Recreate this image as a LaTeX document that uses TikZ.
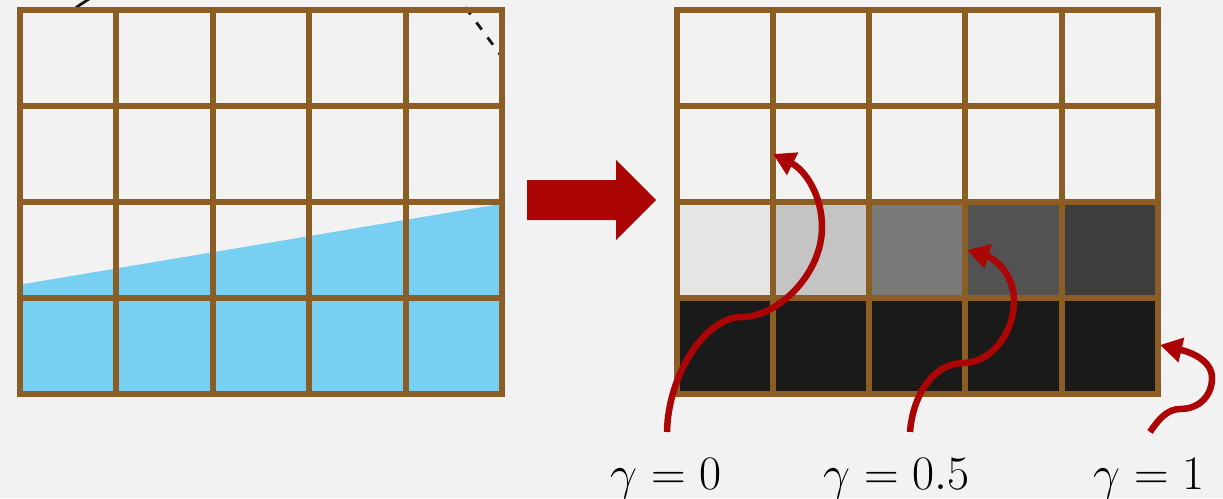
\documentclass[tikz,border=0pt]{standalone}
\usepackage{graphicx}
\usetikzlibrary{arrows.meta}
\definecolor{bgc}{RGB}{242,242,242}
\definecolor{gridbrown}{RGB}{139,94,37}
\definecolor{waterblue}{RGB}{119,207,241}
\definecolor{arrowred}{RGB}{172,5,5}
\definecolor{gA}{RGB}{230,230,230}
\definecolor{gB}{RGB}{196,196,196}
\definecolor{gC}{RGB}{122,122,122}
\definecolor{gD}{RGB}{82,82,82}
\definecolor{gE}{RGB}{62,62,62}
\definecolor{gF}{RGB}{26,26,26}
\newcommand{\biglabel}[1]{\scalebox{1.93}{\Huge$#1$}}
\tikzset{
  gridline/.style={draw=gridbrown, line width=6pt, line cap=rect},
  curvedarrow/.style={draw=arrowred, line width=6.5pt, -{Triangle[length=22pt,width=24pt]}},
  dashline/.style={draw=black!90, line width=2.8pt, dash pattern=on 9pt off 9.8pt, dash phase=3.5pt},
  gammalabel/.style={anchor=base, inner sep=0pt}
}
\begin{document}
\begin{tikzpicture}[x=1pt,y=-1pt]
\useasboundingbox (0,0) rectangle (1223,498);
\fill[bgc] (0,0) rectangle (1223,498);
\begin{scope}
\clip (0,0) rectangle (1223,498);
% ---------- left grid ----------
\fill[waterblue] (19.5,284.7) -- (502,203.7) -- (502,393.5) -- (19.5,393.5) -- cycle;
\draw[dashline] (502,57) -- (452,-10.6);
\draw[draw=black!90, line width=2.8pt] (76,7.5) -- (91,-2.3);
\foreach \i in {0,...,5} \draw[gridline] ({19.5+96.5*\i},9.5) -- ({19.5+96.5*\i},393.5);
\foreach \j in {0,...,4} \draw[gridline] (19.5,{9.5+96*\j}) -- (502,{9.5+96*\j});
% ---------- big arrow ----------
\fill[arrowred] (527,180) -- (616,180) -- (616,160) -- (656,200) -- (616,240) -- (616,220) -- (527,220) -- cycle;
% ---------- right grid ----------
\foreach \c [count=\k from 0] in {gA,gB,gC,gD,gE}
  \fill[\c] ({676.5+96.3*\k},201.5) rectangle ({676.5+96.3*(\k+1)},297.5);
\fill[gF] (676.5,297.5) rectangle (1158,393.5);
\foreach \i in {0,...,5} \draw[gridline] ({676.5+96.3*\i},9.5) -- ({676.5+96.3*\i},393.5);
\foreach \j in {0,...,4} \draw[gridline] (676.5,{9.5+96*\j}) -- (1158,{9.5+96*\j});
% ---------- labels ----------
\node[gammalabel] (g0) at (666,489) {\biglabel{\gamma = 0}};
\node[gammalabel] (g05) at (896.5,489) {\biglabel{\gamma = 0.5}};
\node[gammalabel] (g1) at (1149,489) {\biglabel{\gamma = 1}};
% ---------- curved arrows ----------
\coordinate (s0) at (667,432);
\coordinate (t0) at (773,154);
\coordinate (s05) at (910,432);
\coordinate (t05) at (967,250);
\coordinate (s1) at (1150,432);
\coordinate (t1) at (1160,345);
\draw[curvedarrow] (s0) .. controls (668,375) and (705,317) .. (742,317)
  .. controls (777,317) and (822,275) .. (822,227)
  .. controls (822,195) and (805,170) .. (t0);
\draw[curvedarrow] (s05) .. controls (913,393) and (935,363) .. (963,363)
  .. controls (990,363) and (1014,335) .. (1014,300)
  .. controls (1014,275) and (995,258.5) .. (t05);
\draw[curvedarrow] (s1) .. controls (1158,420) and (1167,409) .. (1180,409)
  .. controls (1200,409) and (1212,395) .. (1212,378)
  .. controls (1212,360) and (1190,352) .. (t1);
\end{scope}
\end{tikzpicture}
\end{document}
